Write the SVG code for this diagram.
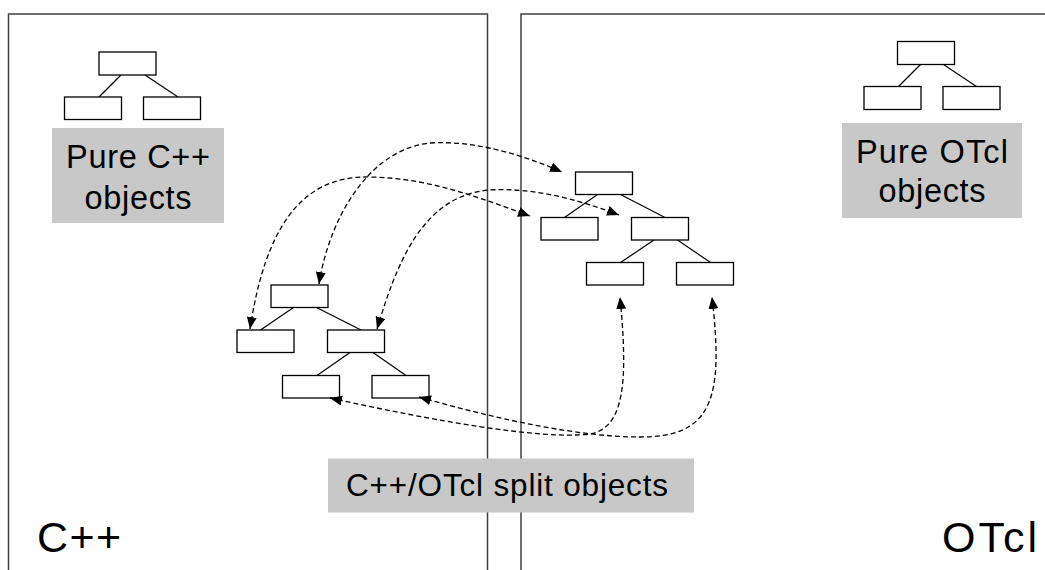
<svg xmlns="http://www.w3.org/2000/svg" width="1045" height="570" viewBox="0 0 1045 570">
<style>
.panel{fill:none;stroke:#404040;stroke-width:1.5}
.box{fill:#fff;stroke:#000;stroke-width:1.3}
.edge{stroke:#000;stroke-width:1.2;fill:none}
.lbl{fill:#c8c8c8}
.t{font-family:"Liberation Sans",Arial,sans-serif;fill:#000}
.conn{fill:none;stroke:#000;stroke-width:1.3;stroke-dasharray:5 3;marker-start:url(#ah);marker-end:url(#ah)}
</style>
<defs>
<marker id="ah" markerUnits="userSpaceOnUse" markerWidth="13" markerHeight="11" refX="12" refY="5" orient="auto-start-reverse" viewBox="0 0 13 11">
<path d="M0,0 L12,5 L0,10 z" fill="#000"/>
</marker>
</defs>
<rect width="1045" height="570" fill="#fff"/>
<g id="panel-cpp">
<path class="panel" d="M8.5,580 V14 H487.5 V580"/>
<text class="t" x="37" y="552" font-size="43" textLength="84">C++</text>
</g>
<g id="panel-otcl">
<path class="panel" d="M521,580 V14 H1050"/>
<text class="t" x="942" y="552" font-size="43" textLength="95">OTcl</text>
</g>
<g id="pure-cpp">
<line class="edge" x1="121" y1="75" x2="99" y2="97"/>
<line class="edge" x1="145" y1="75" x2="178" y2="97"/>
<rect class="box" x="99" y="52" width="57" height="23"/>
<rect class="box" x="64.5" y="97" width="57" height="22.5"/>
<rect class="box" x="143.5" y="97" width="57" height="22.5"/>
</g>
<g id="pure-cpp-label">
<rect class="lbl" x="52" y="128" width="172" height="95"/>
<text class="t" x="138" y="168" font-size="32.5" text-anchor="middle" textLength="144">Pure C++</text>
<text class="t" x="138" y="208.5" font-size="32.5" text-anchor="middle" textLength="107">objects</text>
</g>
<g id="pure-otcl">
<line class="edge" x1="920.5" y1="64.5" x2="898.5" y2="86.5"/>
<line class="edge" x1="943.5" y1="64.5" x2="976.5" y2="86.5"/>
<rect class="box" x="897.5" y="41.5" width="57" height="23"/>
<rect class="box" x="864" y="86.5" width="57" height="23"/>
<rect class="box" x="943" y="86.5" width="57" height="23"/>
</g>
<g id="pure-otcl-label">
<rect class="lbl" x="842" y="123" width="180" height="95"/>
<text class="t" x="932" y="163" font-size="32.5" text-anchor="middle" textLength="152">Pure OTcl</text>
<text class="t" x="932" y="202" font-size="32.5" text-anchor="middle" textLength="107">objects</text>
</g>
<g id="split-cpp">
<line class="edge" x1="293.5" y1="307.5" x2="260.5" y2="330"/>
<line class="edge" x1="316.5" y1="307.5" x2="361" y2="330"/>
<line class="edge" x1="350" y1="352.5" x2="317" y2="375.5"/>
<line class="edge" x1="373" y1="352.5" x2="406" y2="375.5"/>
<rect class="box" x="271" y="285" width="57" height="22.5"/>
<rect class="box" x="237" y="330" width="57" height="22.5"/>
<rect class="box" x="327.5" y="330" width="57" height="22.5"/>
<rect class="box" x="282.5" y="375.5" width="57" height="22.5"/>
<rect class="box" x="372" y="375.5" width="57" height="22.5"/>
</g>
<g id="split-otcl">
<line class="edge" x1="597.5" y1="194.5" x2="564.5" y2="217.5"/>
<line class="edge" x1="620.5" y1="194.5" x2="665" y2="217.5"/>
<line class="edge" x1="654" y1="240" x2="620.5" y2="262.5"/>
<line class="edge" x1="677.5" y1="240" x2="710.5" y2="262.5"/>
<rect class="box" x="575.5" y="172" width="57" height="22.5"/>
<rect class="box" x="541" y="217.5" width="57" height="22.5"/>
<rect class="box" x="631.5" y="217.5" width="57" height="22.5"/>
<rect class="box" x="586.5" y="262.5" width="57" height="22.5"/>
<rect class="box" x="676.5" y="262.5" width="57" height="22.5"/>
</g>
<g id="split-label">
<rect class="lbl" x="328" y="458.5" width="366" height="54"/>
<text class="t" x="346" y="495.5" font-size="31.5" textLength="322">C++/OTcl split objects</text>
</g>
<g id="connectors">
<path class="conn" d="M250,329 C265,230 300,175 370,177 C430,178 480,198 530,216"/>
<path class="conn" d="M319,284 C328,225 365,150 430,143 C480,140 530,158 562,172"/>
<path class="conn" d="M377,329 C395,270 420,195 490,190 C540,187 590,204 619,215"/>
<path class="conn" d="M330,398 C430,420 540,440 590,434 C625,428 628,380 620,297"/>
<path class="conn" d="M419,397 C500,420 580,437 640,437 C712,437 724,400 712,297"/>
</g>
</svg>
